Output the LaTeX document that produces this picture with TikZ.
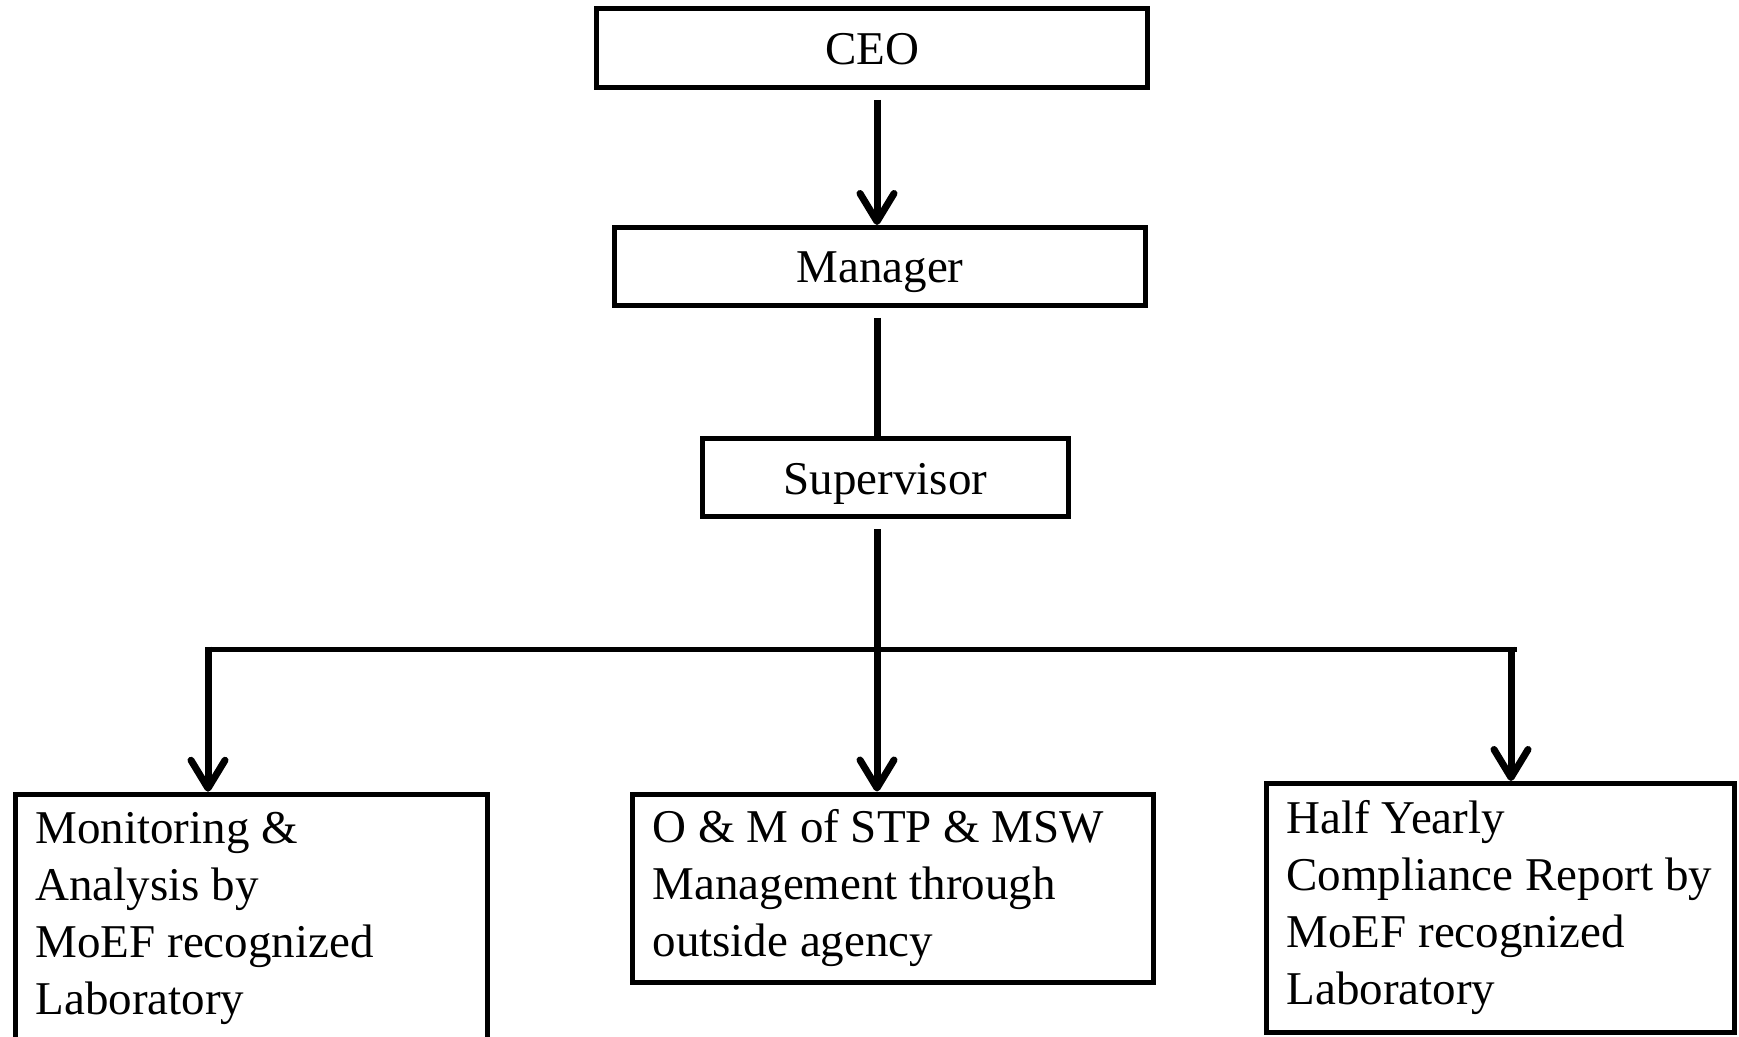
\documentclass[tikz,border=0pt]{standalone}
\usepackage{fontspec}
\setmainfont{Liberation Serif}
\usetikzlibrary{arrows.meta}
\begin{document}
\begin{tikzpicture}[x=0.5pt,y=-0.5pt,
    box/.style={draw,line width=2.5pt,inner sep=0pt,font=\fontsize{23.5}{28.5}\selectfont},
    topbox/.style={box,text height=20pt,text depth=3.5pt},
    txtbox/.style={box,align=flush left,inner xsep=10pt},
    link/.style={line width=3.5pt,shorten <=5pt},
    arr/.style={link,-{Straight Barb[length=14pt,width=17pt,round]}}]
  \useasboundingbox (0,0) rectangle (1739,1037);
  \draw
    (872,48) node[topbox,minimum width=275.5pt,minimum height=39.5pt] (ceo){CEO}
    (880,266.5) node[topbox,minimum width=265.5pt,minimum height=39pt] (mgr){Manager}
    (885.5,477.5) node[topbox,minimum width=183pt,minimum height=39pt] (sup){Supervisor}
    (251.5,918) node[txtbox,text width=216pt,minimum height=123.75pt] (lab){Monitoring \&\\Analysis by\\MoEF recognized\\Laboratory}
    (893,888) node[txtbox,text width=240.5pt,minimum height=94pt] (om){O \& M of STP \& MSW\\Management through\\outside agency}
    (1500.5,908) node[txtbox,text width=214pt,minimum height=124.5pt] (rep){Half Yearly\\Compliance Report by\\MoEF recognized\\Laboratory};
  \coordinate (hub) at (877,649);
  \coordinate (barL) at (208,649);
  \coordinate (barR) at (1517,649);
  \coordinate (dropR) at (1511,649);
  \begin{scope}[link]
    \draw[arr] (ceo.south -| hub) to (mgr.north -| hub);
    \draw (mgr.south -| hub) to (sup.north -| hub);
    \draw[arr] (sup.south -| hub) to (om.north -| hub);
    \draw[line width=2.5pt,shorten <=0pt] (barL) to (barR);
    \draw[arr,shorten <=-1.25pt] (barL) to (lab.north -| barL);
    \draw[arr,shorten <=-1.25pt] (dropR) to (rep.north -| dropR);
  \end{scope}
\end{tikzpicture}
\end{document}
